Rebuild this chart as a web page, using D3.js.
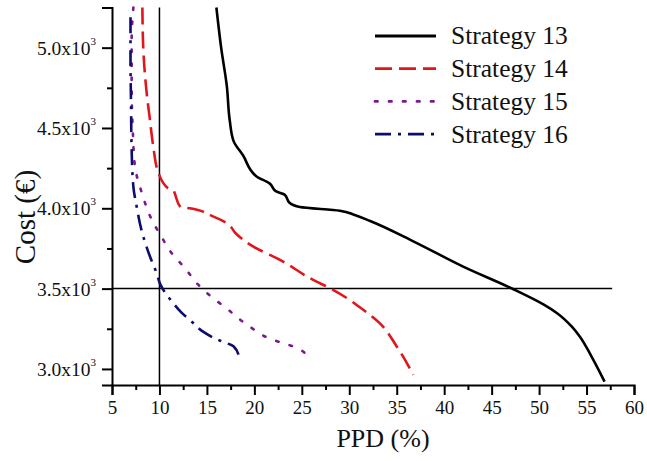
<!DOCTYPE html>
<html>
<head>
<meta charset="utf-8">
<script src="https://cdn.jsdelivr.net/npm/d3@7"></script>
<style>
  html, body { margin: 0; padding: 0; background: #fff; }
  svg { display: block; }
  text { font-family: "Liberation Serif", "Times New Roman", serif; fill: #111; }
</style>
</head>
<body>
<svg id="chart" width="647" height="461"></svg>
<script>
// ---------- data ----------
const seriesNames = ["Strategy 13", "Strategy 14", "Strategy 15", "Strategy 16"];
const seriesColors = ["#000000", "#e0161b", "#7a1a8c", "#0d0d6e"];
const seriesDash = ["none", "17,7", "2.5,11.5", "16,7,3,7"];

const s13PPD  = [16.0, 16.5, 17.1, 17.4, 17.8, 18.8, 20.2, 21.6, 22.3, 23.2, 23.7, 24.8, 29.0, 30.5, 32.2, 36.8, 42.0, 47.3, 50.5, 51.9, 53.5, 54.3, 55.5, 56.9];
const s13Cost = [5250, 5000, 4760, 4550, 4420, 4330, 4200, 4155, 4105, 4085, 4035, 4008, 3985, 3960, 3921, 3793, 3637, 3496, 3400, 3347, 3260, 3201, 3080, 2921];

const s14PPD  = [8.2, 8.3, 8.65, 9.0, 9.35, 9.9, 10.9, 11.45, 11.6, 12.2, 13.2, 15.7, 17.1, 18.1, 19.9, 22.7, 26.2, 28.0, 31.5, 33.2, 35.0, 36.75];
const s14Cost = [5250, 4990, 4720, 4550, 4385, 4220, 4125, 4115, 4095, 4008, 4000, 3948, 3907, 3840, 3761, 3679, 3554, 3502, 3367, 3285, 3140, 2963];

const s15PPD  = [7.25, 7.07, 7.07, 7.2, 7.42, 8.1, 9.2, 10.2, 11.3, 12.7, 14.0, 15.5, 17.1, 18.6, 20.1, 21.6, 23.05, 24.6, 25.9];
const s15Cost = [5250, 5050, 4780, 4470, 4260, 4104, 3928, 3824, 3720, 3627, 3530, 3448, 3376, 3302, 3240, 3189, 3160, 3129, 3045];

const s16PPD  = [6.95, 6.95, 7.0, 7.07, 7.25, 7.6, 8.1, 9.0, 9.7, 10.1, 11.46, 12.3, 13.4, 14.6, 15.6, 16.55, 17.8, 18.4];
const s16Cost = [5190, 4900, 4670, 4365, 4135, 4010, 3866, 3700, 3596, 3525, 3409, 3352, 3294, 3232, 3197, 3172, 3141, 3075];

const xTicks = [5, 10, 15, 20, 25, 30, 35, 40, 45, 50, 55, 60];
const yTicks = [3000, 3500, 4000, 4500, 5000];
const yTickLabels = ["3.0x10", "3.5x10", "4.0x10", "4.5x10", "5.0x10"];
const refPPD = 10;      // vertical reference line
const refCost = 3500;   // horizontal reference line
const refCostEnd = 57.7;

// ---------- layout ----------
const svg = d3.select("#chart");
const x = d3.scaleLinear().domain([5, 60]).range([112, 634]);
const y = d3.scaleLinear().domain([2900, 5250]).range([385, 7.5]);

const series = [s13PPD, s14PPD, s15PPD, s16PPD].map((xs, i) => ({
  name: seriesNames[i],
  color: seriesColors[i],
  dash: seriesDash[i],
  pts: xs.map((v, j) => [v, [s13Cost, s14Cost, s15Cost, s16Cost][i][j]])
}));

// reference lines
svg.append("line")
  .attr("x1", x(refPPD)).attr("x2", x(refPPD))
  .attr("y1", y(5250)).attr("y2", y(2900))
  .attr("stroke", "#000").attr("stroke-width", 1.5);
svg.append("line")
  .attr("x1", x(5)).attr("x2", x(refCostEnd))
  .attr("y1", y(refCost)).attr("y2", y(refCost))
  .attr("stroke", "#000").attr("stroke-width", 1.5);

// curves
const line = d3.line().x(d => x(d[0])).y(d => y(d[1])).curve(d3.curveMonotoneY);
series.forEach(s => {
  svg.append("path")
    .attr("d", line(s.pts))
    .attr("fill", "none")
    .attr("stroke", s.color)
    .attr("stroke-width", 2.6)
    .attr("stroke-dasharray", s.dash)
    .attr("stroke-linecap", s.dash === "2.5,11.5" ? "round" : "butt");
});

// x axis
const xMinor = d3.range(7.5, 60, 5);
const xAxis = svg.append("g").attr("transform", `translate(0,${y(2900)})`);
xAxis.call(d3.axisBottom(x).tickValues(xTicks).tickSize(10).tickFormat(d3.format("d")).tickPadding(6));
xAxis.selectAll(".tick").filter(d => false);
svg.append("g").attr("transform", `translate(0,${y(2900)})`)
  .call(d3.axisBottom(x).tickValues(xMinor).tickSize(5).tickFormat(""))
  .select(".domain").remove();

// y axis
const yMinor = [3250, 3750, 4250, 4750, 5250];
const yAxis = svg.append("g").attr("transform", `translate(${x(5)},0)`);
yAxis.call(d3.axisLeft(y).tickValues(yTicks).tickSize(10).tickFormat(""));
svg.append("g").attr("transform", `translate(${x(5)},0)`)
  .call(d3.axisLeft(y).tickValues(yMinor).tickSize(5).tickFormat(""))
  .select(".domain").remove();

svg.selectAll(".domain").attr("stroke", "#000").attr("stroke-width", 2);
svg.selectAll(".tick line").attr("stroke", "#000").attr("stroke-width", 2);
xAxis.selectAll(".tick text")
  .attr("font-family", "Liberation Serif, serif")
  .attr("font-size", 19).attr("fill", "#111");

// y tick labels with superscript
yTicks.forEach((v, i) => {
  const t = svg.append("text")
    .attr("x", 91).attr("y", y(v) + 7)
    .attr("text-anchor", "end")
    .attr("font-size", 19.5);
  t.append("tspan").text(yTickLabels[i]);
  t.append("tspan").attr("font-size", 11).attr("dy", -10).text("3");
});
// fix anchor: superscript appended after, so anchor "end" applies to full text
svg.selectAll("text").filter(function(){ return this.getAttribute("text-anchor")==="end"; })
  .attr("x", 96);

// axis titles
svg.append("text")
  .attr("x", 383).attr("y", 447)
  .attr("text-anchor", "middle")
  .attr("font-size", 26)
  .text("PPD (%)");
svg.append("text")
  .attr("transform", "translate(35,217) rotate(-90)")
  .attr("text-anchor", "middle")
  .attr("font-size", 29)
  .text("Cost (€)");

// legend
const lg = svg.append("g");
series.forEach((s, i) => {
  const yy = 36 + i * 32.7;
  lg.append("line")
    .attr("x1", 375).attr("x2", 436)
    .attr("y1", yy).attr("y2", yy)
    .attr("stroke", s.color).attr("stroke-width", 2.8)
    .attr("stroke-dasharray", s.dash)
    .attr("stroke-linecap", s.dash === "2.5,11.5" ? "round" : "butt");
  lg.append("text")
    .attr("x", 451).attr("y", yy)
    .attr("dy", "0.33em")
    .attr("font-size", 25.5)
    .text(s.name);
});
</script>
</body>
</html>
